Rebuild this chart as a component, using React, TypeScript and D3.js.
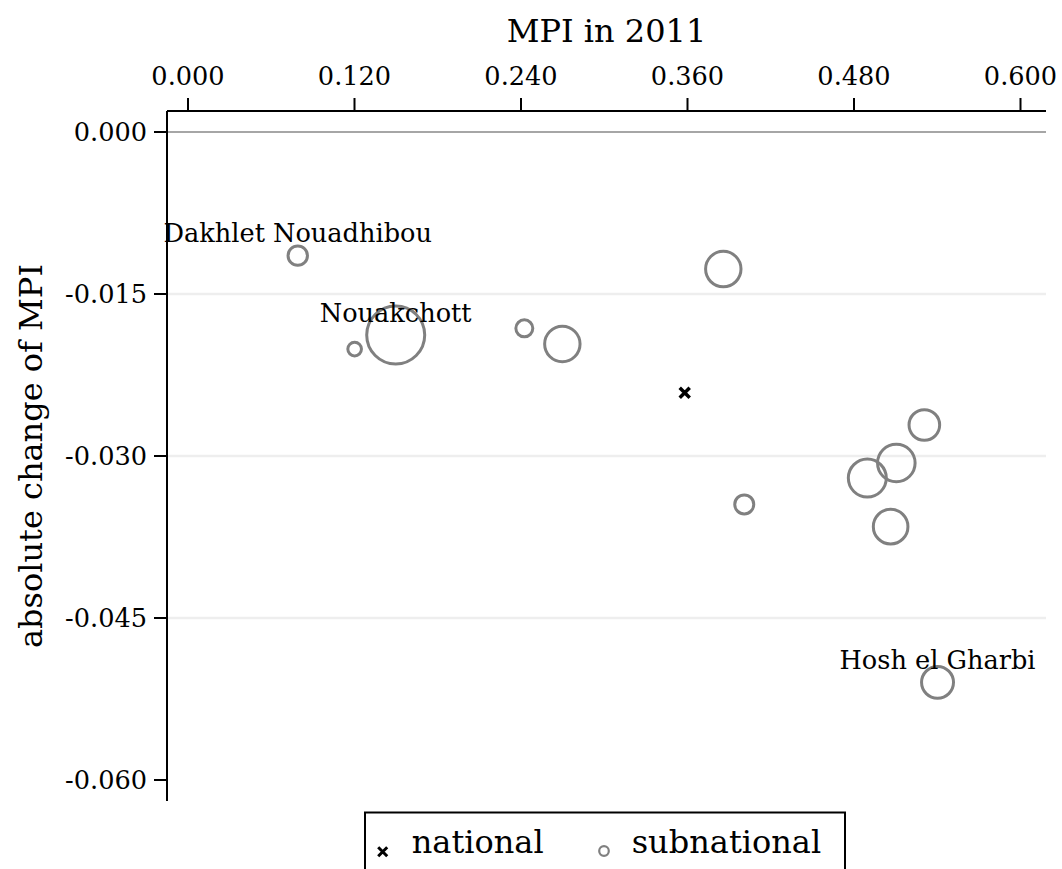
import React from "react";
import * as d3 from "d3";

// ---- data ----
const mpi2011 = [0.0791, 0.1201, 0.1497, 0.2424, 0.2698, 0.3858, 0.4009, 0.4896, 0.5064, 0.5105, 0.5307, 0.5402];
const absChange = [-0.01145, -0.0201, -0.0188, -0.01818, -0.01963, -0.01269, -0.03448, -0.03204, -0.03654, -0.03065, -0.02713, -0.05096];
const population = [107, 53, 958, 82, 357, 357, 103, 411, 341, 402, 267, 291];
const regionLabels = ["Dakhlet Nouadhibou", "", "Nouakchott", "", "", "", "", "", "", "", "", "Hosh el Gharbi"];
const nationalMpi = [0.358];
const nationalChange = [-0.02414];
const xTicks = [0, 0.12, 0.24, 0.36, 0.48, 0.6];
const yTicks = [0, -0.015, -0.03, -0.045, -0.06];
const gridTicks = [-0.015, -0.03, -0.045];
const legendItems = ["national", "subnational"];

const W = 1062;
const H = 869;
const FONT = "'DejaVu Serif', serif";

export default function App() {
  const x = d3.scaleLinear().domain([0, 0.12]).range([188, 354.5]);
  const y = d3.scaleLinear().domain([0, -0.015]).range([132, 294]);
  const left = 167, right = 1046, top = 111, bottom = 801;
  const r = d3.scaleSqrt().domain([0, 958]).range([0, 29]);
  const fmt = d3.format(".3f");
  const pts = mpi2011.map((v, i) => ({ x: v, y: absChange[i], p: population[i], label: regionLabels[i] }));

  return (
    <svg width={W} height={H} style={{ position: "absolute", left: 0, top: 0, background: "#fff" }}>
      {/* grid */}
      {gridTicks.map((t) => (
        <line key={t} x1={left} x2={right} y1={y(t)} y2={y(t)} stroke="#eeeeee" strokeWidth={2.5} />
      ))}
      <line x1={left} x2={right} y1={y(0)} y2={y(0)} stroke="#888" strokeWidth={1.5} />

      {/* top axis */}
      <line x1={left} x2={right} y1={top} y2={top} stroke="#000" strokeWidth={2} />
      {xTicks.map((t) => (
        <g key={t}>
          <line x1={x(t)} x2={x(t)} y1={top} y2={top - 13} stroke="#000" strokeWidth={2} />
          <text x={x(t)} y={85} textAnchor="middle" fontFamily={FONT} fontSize={25.6} fill="#000">
            {fmt(t)}
          </text>
        </g>
      ))}
      <text x={(left + right) / 2} y={42} textAnchor="middle" fontFamily={FONT} fontSize={32} fill="#000">
        MPI in 2011
      </text>

      {/* left axis */}
      <line x1={left} x2={left} y1={top} y2={bottom} stroke="#000" strokeWidth={2} />
      {yTicks.map((t) => (
        <g key={t}>
          <line x1={left - 13} x2={left} y1={y(t)} y2={y(t)} stroke="#000" strokeWidth={2} />
          <text x={left - 20} y={y(t)} dy="0.35em" textAnchor="end" fontFamily={FONT} fontSize={25.6} fill="#000">
            {t === 0 ? fmt(t) : fmt(t).replace("−", "-")}
          </text>
        </g>
      ))}
      <text
        transform={`translate(42, ${(top + bottom) / 2}) rotate(-90)`}
        textAnchor="middle"
        fontFamily={FONT}
        fontSize={32}
        fill="#000"
      >
        absolute change of MPI
      </text>

      {/* subnational bubbles */}
      {pts.map((d, i) => (
        <circle key={i} cx={x(d.x)} cy={y(d.y)} r={r(d.p)} fill="none" stroke="#808080" strokeWidth={3} />
      ))}
      {/* national */}
      {nationalMpi.map((v, i) => {
        const cx = x(v), cy = y(nationalChange[i]), s = 5;
        return (
          <path
            key={i}
            d={`M${cx - s},${cy - s}L${cx + s},${cy + s}M${cx - s},${cy + s}L${cx + s},${cy - s}`}
            stroke="#000"
            strokeWidth={3.5}
          />
        );
      })}
      {/* labels */}
      {pts.filter((d) => d.label).map((d, i) => (
        <text key={i} x={x(d.x)} y={y(d.y) - 13.5} textAnchor="middle" fontFamily={FONT} fontSize={25.6} fill="#000">
          {d.label}
        </text>
      ))}

      {/* legend */}
      <rect x={365} y={812.5} width={480} height={80} fill="#fff" stroke="#000" strokeWidth={2} />
      <path d={`M${382.7 - 4.5},${851.7 - 4.5}L${382.7 + 4.5},${851.7 + 4.5}M${382.7 - 4.5},${851.7 + 4.5}L${382.7 + 4.5},${851.7 - 4.5}`} stroke="#000" strokeWidth={3} />
      <text x={411.7} y={853.3} fontFamily={FONT} fontSize={32} fill="#000">{legendItems[0]}</text>
      <circle cx={604} cy={851} r={4.8} fill="none" stroke="#808080" strokeWidth={2.2} />
      <text x={631.7} y={853.3} fontFamily={FONT} fontSize={32} fill="#000">{legendItems[1]}</text>
    </svg>
  );
}
